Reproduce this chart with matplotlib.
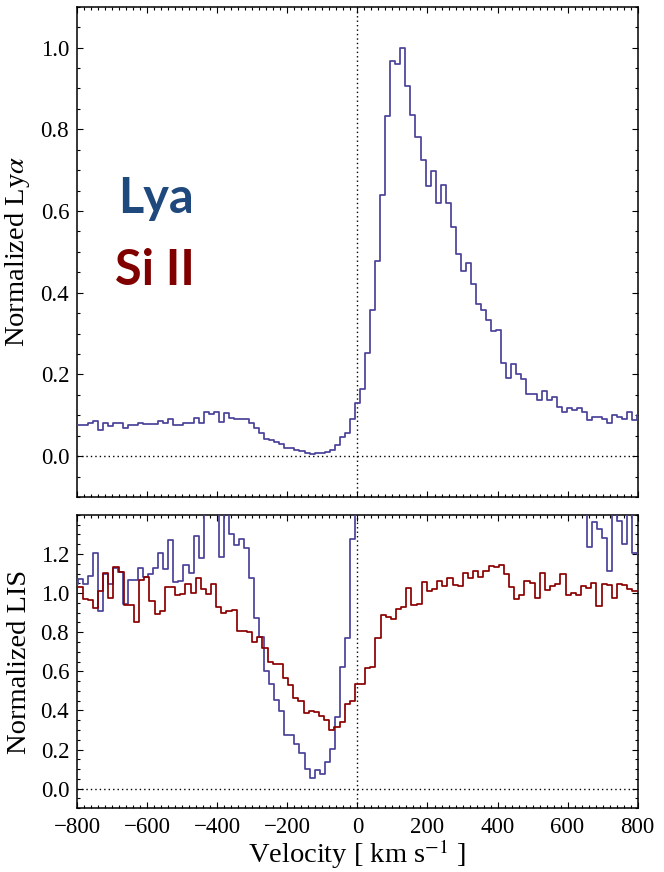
import numpy as np
import matplotlib
matplotlib.use("Agg")
import matplotlib.pyplot as plt
from matplotlib.ticker import MultipleLocator

# ---------------------------------------------------------------------------
# Spectral data (velocity bins centred on 0 km/s)
# ---------------------------------------------------------------------------
lya_bin_width = 14.41      # km/s per Ly-alpha pixel
si_bin_width = 14.68       # km/s per Si II pixel
lya_bin_index = np.arange(-56, 57)
si_bin_index = np.arange(-55, 56)

# Ly-alpha profile normalised to its peak
lya_peak_norm = [
    0.077, 0.077, 0.077, 0.080, 0.086, 0.065, 0.080, 0.074, 0.081, 0.081,
    0.068, 0.077, 0.077, 0.081, 0.078, 0.078, 0.078, 0.086, 0.080, 0.091,
    0.076, 0.076, 0.082, 0.080, 0.094, 0.081, 0.108, 0.104, 0.108, 0.084,
    0.106, 0.094, 0.090, 0.091, 0.090, 0.081, 0.068, 0.057, 0.043, 0.039,
    0.034, 0.031, 0.020, 0.019, 0.016, 0.013, 0.008, 0.005, 0.008, 0.007,
    0.011, 0.015, 0.027, 0.046, 0.056, 0.092,
    0.129,
    0.164, 0.252, 0.358, 0.478, 0.640, 0.832, 0.966, 0.960, 1.000, 0.905,
    0.834, 0.782, 0.724, 0.662, 0.698, 0.620, 0.663, 0.620, 0.562, 0.496,
    0.452, 0.474, 0.421, 0.372, 0.358, 0.333, 0.306, 0.309, 0.228, 0.191,
    0.225, 0.201, 0.188, 0.151, 0.151, 0.138, 0.159, 0.137, 0.145, 0.121,
    0.107, 0.119, 0.114, 0.117, 0.108, 0.088, 0.096, 0.095, 0.091, 0.080,
    0.100, 0.096, 0.090, 0.108, 0.088, 0.100,
]

# Ly-alpha profile normalised to the continuum
lya_cont_norm = [
    1.046, 1.071, 1.046, 1.087, 1.207, 0.908, 1.100, 1.049, 1.129, 1.109,
    0.944, 1.066, 1.066, 1.129, 1.083, 1.097, 1.126, 1.207, 1.122, 1.270,
    1.058, 1.061, 1.146, 1.104, 1.291, 1.180, 1.52, 1.47, 1.55, 1.185,
    1.45, 1.304, 1.248, 1.276, 1.231, 1.078, 0.871, 0.777, 0.604, 0.537,
    0.454, 0.398, 0.276, 0.276, 0.228, 0.180, 0.100, 0.054, 0.094, 0.075,
    0.139, 0.204, 0.367, 0.621, 0.772, 1.279,
    1.75,
    2.2, 3.4, 4.8, 6.4, 8.5, 11.1, 12.9, 12.8, 13.3, 12.1,
    11.1, 10.4, 9.7, 8.8, 9.3, 8.3, 8.8, 8.3, 7.5, 6.6,
    6.0, 6.3, 5.6, 5.0, 4.8, 4.4, 4.1, 4.1, 3.0, 2.5,
    3.0, 2.7, 2.5, 2.0, 2.0, 1.84, 2.1, 1.83, 1.93, 1.61,
    1.45, 1.59, 1.52, 1.56, 1.46, 1.236, 1.364, 1.327, 1.282, 1.112,
    1.50, 1.367, 1.253, 1.48, 1.206, 1.20,
]

# Low-ionisation (Si II) absorption profile
si_ii_norm = [
    0.905, 1.032, 0.969, 0.963, 0.925, 1.012, 1.105, 0.973, 1.134, 1.109,
    0.939, 0.939, 0.854, 1.066, 1.083, 0.959, 0.895, 0.908, 1.032, 1.032,
    0.990, 0.998, 1.046, 1.000, 1.075, 1.019, 0.998, 1.046, 0.930, 0.896,
    0.908, 0.913, 0.806, 0.806, 0.799, 0.748, 0.774, 0.718, 0.650, 0.638,
    0.638, 0.568, 0.531, 0.466, 0.446, 0.386, 0.395, 0.391, 0.374, 0.349,
    0.301, 0.313, 0.340, 0.432, 0.446,
    0.536,
    0.536, 0.619, 0.624, 0.772, 0.888, 0.879, 0.866, 0.917, 0.930, 1.024,
    0.939, 0.947, 1.058, 1.012, 1.020, 1.063, 1.036, 1.078, 1.044, 1.036,
    1.105, 1.078, 1.114, 1.080, 1.112, 1.139, 1.133, 1.146, 1.100, 1.032,
    0.969, 0.990, 1.061, 1.053, 0.973, 1.104, 1.015, 1.036, 1.046, 1.100,
    0.993, 1.002, 0.988, 1.037, 1.024, 1.053, 0.935, 1.046, 1.041, 0.973,
    1.049, 1.041, 1.019, 1.010, 1.010,
]

x_ticks = [-800, -600, -400, -200, 0, 200, 400, 600, 800]
top_yticks = [0.0, 0.2, 0.4, 0.6, 0.8, 1.0]
bottom_yticks = [0.0, 0.2, 0.4, 0.6, 0.8, 1.0, 1.2]

# ---------------------------------------------------------------------------
plt.rcParams["font.family"] = ["Liberation Serif", "DejaVu Serif"]
plt.rcParams["mathtext.fontset"] = "stix"

LYA_COLOR = "#4a4199"
SI_COLOR = "#8b0000"
LABEL_SIZE = 20.5
TICK_SIZE = 16.5

v_lya = lya_bin_index * lya_bin_width
v_si = si_bin_index * si_bin_width

fig = plt.figure(figsize=(6.64, 8.72), dpi=100)
ax_top = fig.add_axes([0.1167, 0.4300, 0.8434, 0.5623])
ax_bot = fig.add_axes([0.1167, 0.0731, 0.8434, 0.3364])

dotted = dict(color="black", lw=1.0, ls=(0, (1, 2.2)), zorder=1)

# Upper panel: Ly-alpha profile
ax_top.step(v_lya, lya_peak_norm, where="mid", color=LYA_COLOR, lw=1.25, zorder=3)
ax_top.axhline(0.0, **dotted)
ax_top.axvline(0.0, **dotted)
ax_top.set_xlim(-800, 800)
ax_top.set_ylim(-0.1, 1.1)
ax_top.set_yticks(top_yticks)
ax_top.set_ylabel(r"Normalized Ly$\alpha$", fontsize=LABEL_SIZE)
ax_top.tick_params(axis="x", labelbottom=False)

ax_top.text(-685, 0.594, "Lya", color="#1f497d", fontsize=35,
            fontweight="bold", family="Lato", ha="left", va="baseline")
ax_top.text(-693, 0.418, "Si II", color="#800000", fontsize=35,
            fontweight="bold", family="Lato", ha="left", va="baseline")

# Lower panel: Ly-alpha and Si II normalised to continuum
ax_bot.step(v_lya, lya_cont_norm, where="mid", color=LYA_COLOR, lw=1.25, zorder=3)
ax_bot.step(v_si, si_ii_norm, where="mid", color=SI_COLOR, lw=1.25, zorder=4)
ax_bot.axhline(0.0, **dotted)
ax_bot.axvline(0.0, **dotted)
ax_bot.set_xlim(-800, 800)
ax_bot.set_ylim(-0.1, 1.4)
ax_bot.set_yticks(bottom_yticks)
ax_bot.set_xticks(x_ticks)
ax_bot.set_ylabel("Normalized LIS", fontsize=LABEL_SIZE)
ax_bot.set_xlabel(r"Velocity [ km s$^{-1}$ ]", fontsize=LABEL_SIZE, labelpad=0)

for ax in (ax_top, ax_bot):
    ax.xaxis.set_minor_locator(MultipleLocator(20))
    ax.yaxis.set_minor_locator(MultipleLocator(0.05))
    ax.tick_params(which="both", direction="in", top=True, right=True,
                   width=0.8, labelsize=TICK_SIZE, pad=6)
    ax.tick_params(which="major", length=4.5)
    ax.tick_params(which="minor", length=2.5)
    for sp in ax.spines.values():
        sp.set_linewidth(1.1)
    ax.yaxis.set_label_coords(-0.082, 0.5)
    ax.set_yticklabels([f"{t:.1f}" for t in ax.get_yticks()])

ax_bot.set_xticklabels([f"{t:d}".replace("-", "\u2212") for t in x_ticks])

fig.savefig("out.png", dpi=100)
